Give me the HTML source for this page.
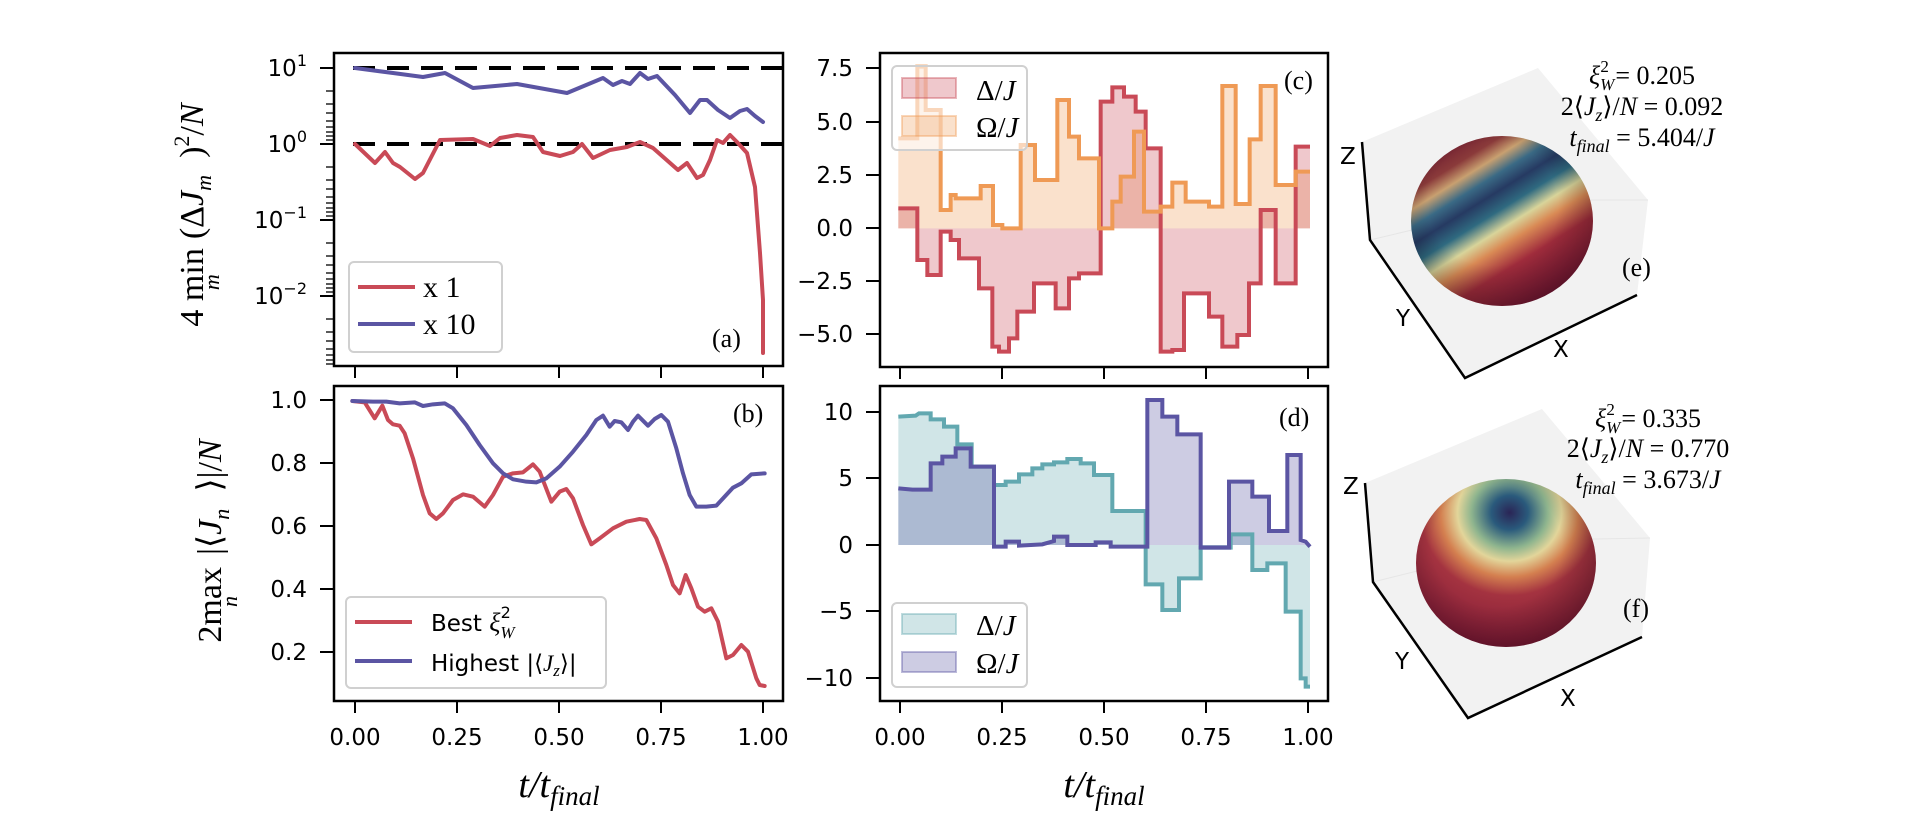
<!DOCTYPE html>
<html><head><meta charset="utf-8"><style>
html,body{margin:0;padding:0;background:#fff;}
svg{display:block;}
.tk{font-family:"DejaVu Sans","Liberation Sans",sans-serif;font-size:23px;fill:#000;}
.sf{font-family:"Liberation Serif","DejaVu Serif",serif;fill:#000;}
</style></head><body>
<svg width="1906" height="824" viewBox="0 0 1906 824" xmlns="http://www.w3.org/2000/svg">
<defs>
<linearGradient id="ge" x1="0.15" y1="0.05" x2="0.75" y2="0.95">
<stop offset="0" stop-color="#6e1a30"/><stop offset="0.14" stop-color="#8a3a3a"/>
<stop offset="0.22" stop-color="#c8a070"/><stop offset="0.3" stop-color="#3a6a85"/>
<stop offset="0.38" stop-color="#263a62"/><stop offset="0.47" stop-color="#2f6a80"/>
<stop offset="0.56" stop-color="#d8d49a"/><stop offset="0.64" stop-color="#d98a55"/>
<stop offset="0.76" stop-color="#a02c3c"/><stop offset="1" stop-color="#781735"/>
</linearGradient>
<radialGradient id="gf" cx="0.52" cy="0.2" r="0.85">
<stop offset="0" stop-color="#2a2556"/><stop offset="0.12" stop-color="#2a5a7c"/>
<stop offset="0.25" stop-color="#8fb58e"/><stop offset="0.34" stop-color="#e2d59a"/>
<stop offset="0.45" stop-color="#d48050"/><stop offset="0.58" stop-color="#a43340"/>
<stop offset="1" stop-color="#7a1535"/>
</radialGradient>
<radialGradient id="sh" cx="0.45" cy="0.4" r="0.6">
<stop offset="0.6" stop-color="#000" stop-opacity="0"/><stop offset="1" stop-color="#000" stop-opacity="0.25"/>
</radialGradient>
</defs>

<!-- ===== Panel a ===== -->
<g fill="none" stroke-linejoin="round" stroke-linecap="round">
<line x1="353" y1="68" x2="783" y2="68" stroke="#000" stroke-width="4" stroke-dasharray="22,12" stroke-linecap="butt"/>
<line x1="353" y1="144" x2="783" y2="144" stroke="#000" stroke-width="4" stroke-dasharray="22,12" stroke-linecap="butt"/>
<polyline stroke="#5b55a3" stroke-width="4" points="355,68 393,73 423,77 445,73 473,88 517,84 567,93 603,78 613,85 622,81 630,84 640,73 648,79 657,76 675,95 690,113 700,100 707,100 718,110 730,118 740,111 747,109 755,116 763,122"/>
<polyline stroke="#c94a57" stroke-width="4" points="355,144 375,163 385,152 393,163 400,167 415,179 423,173 440,140 473,139 490,146 500,138 517,135 533,137 543,152 560,156 573,152 582,144 593,158 610,150 627,147 640,142 653,148 678,170 687,163 697,178 703,175 710,160 717,140 723,143 730,135 737,142 747,153 755,187 760,253 763,300 763,353"/>
</g>
<g stroke="#000" stroke-width="2">
<line x1="320" y1="68" x2="333" y2="68"/><line x1="320" y1="144" x2="333" y2="144"/>
<line x1="320" y1="220" x2="333" y2="220"/><line x1="320" y1="296" x2="333" y2="296"/>
</g>
<g stroke="#000" stroke-width="1.3">
<line x1="326" y1="91" x2="333" y2="91"/><line x1="326" y1="104" x2="333" y2="104"/><line x1="326" y1="113" x2="333" y2="113"/><line x1="326" y1="121" x2="333" y2="121"/><line x1="326" y1="127" x2="333" y2="127"/><line x1="326" y1="132" x2="333" y2="132"/><line x1="326" y1="136" x2="333" y2="136"/><line x1="326" y1="140" x2="333" y2="140"/>
<line x1="326" y1="167" x2="333" y2="167"/><line x1="326" y1="180" x2="333" y2="180"/><line x1="326" y1="189" x2="333" y2="189"/><line x1="326" y1="197" x2="333" y2="197"/><line x1="326" y1="203" x2="333" y2="203"/><line x1="326" y1="208" x2="333" y2="208"/><line x1="326" y1="212" x2="333" y2="212"/><line x1="326" y1="216" x2="333" y2="216"/>
<line x1="326" y1="243" x2="333" y2="243"/><line x1="326" y1="256" x2="333" y2="256"/><line x1="326" y1="265" x2="333" y2="265"/><line x1="326" y1="273" x2="333" y2="273"/><line x1="326" y1="279" x2="333" y2="279"/><line x1="326" y1="284" x2="333" y2="284"/><line x1="326" y1="288" x2="333" y2="288"/><line x1="326" y1="292" x2="333" y2="292"/>
<line x1="326" y1="319" x2="333" y2="319"/><line x1="326" y1="332" x2="333" y2="332"/><line x1="326" y1="341" x2="333" y2="341"/><line x1="326" y1="349" x2="333" y2="349"/><line x1="326" y1="355" x2="333" y2="355"/><line x1="326" y1="360" x2="333" y2="360"/><line x1="326" y1="364" x2="333" y2="364"/>
</g>
<g class="tk" text-anchor="end">
<text x="307" y="76">10<tspan dy="-10" font-size="16">1</tspan></text>
<text x="307" y="152">10<tspan dy="-10" font-size="16">0</tspan></text>
<text x="307" y="228">10<tspan dy="-10" font-size="16">−1</tspan></text>
<text x="307" y="304">10<tspan dy="-10" font-size="16">−2</tspan></text>
</g>
<g stroke="#000" stroke-width="2">
<line x1="355" y1="366" x2="355" y2="378"/><line x1="457" y1="366" x2="457" y2="378"/><line x1="559" y1="366" x2="559" y2="378"/><line x1="661" y1="366" x2="661" y2="378"/><line x1="763" y1="366" x2="763" y2="378"/>
</g>
<rect x="349" y="262" width="153" height="90" rx="5" fill="#fff" fill-opacity="0.8" stroke="#d0d0d0" stroke-width="2"/>
<line x1="358" y1="287" x2="415" y2="287" stroke="#c94a57" stroke-width="4"/>
<line x1="358" y1="324" x2="415" y2="324" stroke="#5b55a3" stroke-width="4"/>
<text class="sf" x="423" y="297" font-size="30">x 1</text>
<text class="sf" x="423" y="334" font-size="30">x 10</text>
<text class="sf" x="712" y="347" font-size="26">(a)</text>
<rect x="334" y="53" width="449" height="313" fill="none" stroke="#000" stroke-width="2.5"/>

<!-- ===== Panel b ===== -->
<g transform="translate(333,385) scale(0.33333)" fill="none" stroke-width="12" stroke-linejoin="round" stroke-linecap="round">
<polyline stroke="#c94a57" points="58,48 95,52 125,100 148,62 165,105 180,118 200,122 215,145 240,220 270,330 290,385 310,402 330,385 360,345 390,328 420,335 455,365 480,330 510,275 540,265 570,262 600,238 620,260 655,350 680,320 700,312 720,340 750,420 775,478 800,460 840,430 880,410 920,402 940,405 970,460 1000,540 1020,600 1040,625 1058,570 1075,610 1095,665 1115,680 1135,670 1155,710 1180,820 1200,810 1225,780 1245,800 1270,880 1280,900 1295,903"/>
<polyline stroke="#5b55a3" points="58,48 120,50 160,50 200,55 245,52 270,63 300,58 335,55 360,70 400,120 440,180 480,235 510,265 540,283 580,290 610,292 640,280 680,245 720,200 760,150 790,105 810,92 830,125 845,108 865,112 885,135 900,110 915,92 945,122 965,102 985,90 1005,110 1030,190 1050,265 1070,330 1090,365 1120,365 1150,362 1175,335 1200,308 1225,295 1255,268 1295,265"/>
</g>
<g stroke="#000" stroke-width="2">
<line x1="320" y1="400" x2="334" y2="400"/><line x1="320" y1="463" x2="334" y2="463"/><line x1="320" y1="526" x2="334" y2="526"/><line x1="320" y1="589" x2="334" y2="589"/><line x1="320" y1="652" x2="334" y2="652"/>
<line x1="355" y1="701" x2="355" y2="713"/><line x1="457" y1="701" x2="457" y2="713"/><line x1="559" y1="701" x2="559" y2="713"/><line x1="661" y1="701" x2="661" y2="713"/><line x1="763" y1="701" x2="763" y2="713"/>
</g>
<g class="tk" text-anchor="end">
<text x="307" y="408">1.0</text><text x="307" y="471">0.8</text><text x="307" y="534">0.6</text><text x="307" y="597">0.4</text><text x="307" y="660">0.2</text>
</g>
<g class="tk" text-anchor="middle">
<text x="355" y="745">0.00</text><text x="457" y="745">0.25</text><text x="559" y="745">0.50</text><text x="661" y="745">0.75</text><text x="763" y="745">1.00</text>
<text x="900" y="745">0.00</text><text x="1002" y="745">0.25</text><text x="1104" y="745">0.50</text><text x="1206" y="745">0.75</text><text x="1308" y="745">1.00</text>
</g>
<rect x="346" y="597" width="260" height="91" rx="5" fill="#fff" fill-opacity="0.8" stroke="#d0d0d0" stroke-width="2"/>
<line x1="355" y1="622" x2="412" y2="622" stroke="#c94a57" stroke-width="4"/>
<line x1="355" y1="661" x2="412" y2="661" stroke="#5b55a3" stroke-width="4"/>
<text class="tk" x="431" y="631" font-size="24">Best <tspan class="sf" font-style="italic" font-size="26">ξ</tspan><tspan class="sf" font-style="italic" font-size="17" dy="7">W</tspan><tspan font-size="16" dx="-14" dy="-20">2</tspan></text>
<text class="tk" x="431" y="671" font-size="24">Highest |⟨<tspan class="sf" font-style="italic">J</tspan><tspan class="sf" font-style="italic" font-size="17" dy="5">z</tspan><tspan dy="-5">⟩|</tspan></text>
<text class="sf" x="733" y="422" font-size="26">(b)</text>
<rect x="334" y="386" width="449" height="315" fill="none" stroke="#000" stroke-width="2.5"/>

<!-- ===== Panel c ===== -->
<g transform="translate(879,50) scale(0.33333)" stroke-width="12" stroke-linejoin="miter">
<polygon fill="#ef9a55" fill-opacity="0.3" stroke="none" points="58,265 115,265 115,50 140,50 140,180 185,180 185,480 215,480 215,435 230,435 230,445 305,445 305,408 342,408 342,525 370,525 370,535 425,535 425,285 468,285 468,390 535,390 535,150 570,150 570,260 600,260 600,325 660,325 660,535 700,535 700,455 725,455 725,380 765,380 765,245 795,245 795,485 845,485 845,470 880,470 880,398 920,398 920,455 990,455 990,470 1030,470 1030,108 1070,108 1070,462 1112,462 1112,268 1145,268 1145,108 1190,108 1190,405 1250,405 1250,365 1293,365 1293,535 58,535"/>
<polygon fill="#c94a57" fill-opacity="0.3" stroke="none" points="58,475 115,475 115,630 145,630 145,675 185,675 185,545 215,545 215,570 240,570 240,625 300,625 300,715 340,715 340,890 360,890 360,905 390,905 390,865 415,865 415,785 465,785 465,700 530,700 530,775 570,775 570,685 600,685 600,670 665,670 665,155 700,155 700,112 735,112 735,140 770,140 770,185 800,185 800,295 845,295 845,905 880,905 880,900 915,900 915,730 990,730 990,800 1030,800 1030,890 1075,890 1075,855 1110,855 1110,700 1145,700 1145,480 1190,480 1190,700 1250,700 1250,290 1293,290 1293,535 58,535"/>
<polyline fill="none" stroke="#c94a57" points="58,475 115,475 115,630 145,630 145,675 185,675 185,545 215,545 215,570 240,570 240,625 300,625 300,715 340,715 340,890 360,890 360,905 390,905 390,865 415,865 415,785 465,785 465,700 530,700 530,775 570,775 570,685 600,685 600,670 665,670 665,155 700,155 700,112 735,112 735,140 770,140 770,185 800,185 800,295 845,295 845,905 880,905 880,900 915,900 915,730 990,730 990,800 1030,800 1030,890 1075,890 1075,855 1110,855 1110,700 1145,700 1145,480 1190,480 1190,700 1250,700 1250,290 1293,290"/>
<polyline fill="none" stroke="#ef9a55" points="58,265 115,265 115,50 140,50 140,180 185,180 185,480 215,480 215,435 230,435 230,445 305,445 305,408 342,408 342,525 370,525 370,535 425,535 425,285 468,285 468,390 535,390 535,150 570,150 570,260 600,260 600,325 660,325 660,535 700,535 700,455 725,455 725,380 765,380 765,245 795,245 795,485 845,485 845,470 880,470 880,398 920,398 920,455 990,455 990,470 1030,470 1030,108 1070,108 1070,462 1112,462 1112,268 1145,268 1145,108 1190,108 1190,405 1250,405 1250,365 1293,365"/>
</g>
<rect x="892" y="66" width="135" height="84" rx="5" fill="#fff" fill-opacity="0.6" stroke="#d0d0d0" stroke-width="2"/>
<rect x="902" y="78" width="54" height="20" fill="#c94a57" fill-opacity="0.3" stroke="#c94a57" stroke-opacity="0.4" stroke-width="2"/>
<rect x="902" y="116" width="54" height="20" fill="#ef9a55" fill-opacity="0.3" stroke="#ef9a55" stroke-opacity="0.4" stroke-width="2"/>
<text class="sf" x="976" y="100" font-size="29">Δ/<tspan font-style="italic">J</tspan></text>
<text class="sf" x="976" y="137" font-size="29">Ω/<tspan font-style="italic">J</tspan></text>
<g stroke="#000" stroke-width="2">
<line x1="866" y1="68" x2="879" y2="68"/><line x1="866" y1="122" x2="879" y2="122"/><line x1="866" y1="175" x2="879" y2="175"/><line x1="866" y1="228" x2="879" y2="228"/><line x1="866" y1="281" x2="879" y2="281"/><line x1="866" y1="334" x2="879" y2="334"/>
<line x1="900" y1="367" x2="900" y2="379"/><line x1="1002" y1="367" x2="1002" y2="379"/><line x1="1104" y1="367" x2="1104" y2="379"/><line x1="1206" y1="367" x2="1206" y2="379"/><line x1="1308" y1="367" x2="1308" y2="379"/>
</g>
<g class="tk" text-anchor="end">
<text x="853" y="76">7.5</text><text x="853" y="130">5.0</text><text x="853" y="183">2.5</text><text x="853" y="236">0.0</text><text x="853" y="289">−2.5</text><text x="853" y="342">−5.0</text>
</g>
<text class="sf" x="1284" y="89" font-size="26">(c)</text>
<rect x="880" y="53" width="448" height="314" fill="none" stroke="#000" stroke-width="2.5"/>

<!-- ===== Panel d ===== -->
<g transform="translate(879,385) scale(0.33333)" stroke-width="12">
<polygon fill="#62a8b0" fill-opacity="0.3" stroke="none" points="58,95 110,92 120,85 155,85 155,103 195,103 195,125 235,125 235,178 278,178 278,245 345,245 345,300 380,300 380,290 420,290 420,268 460,268 460,250 490,250 490,238 525,238 525,232 565,232 565,222 605,222 605,235 645,235 645,270 700,270 700,378 800,378 800,598 850,598 850,675 900,675 900,580 965,580 965,488 1055,488 1055,448 1120,448 1120,555 1165,555 1165,535 1220,535 1220,680 1265,680 1265,880 1280,880 1280,905 1293,905 1293,480 58,480"/>
<polygon fill="#5b55a3" fill-opacity="0.3" stroke="none" points="58,310 100,314 155,314 155,235 190,235 190,215 230,215 230,190 275,190 275,245 345,245 345,485 380,485 380,470 420,470 420,482 490,478 525,468 525,455 565,455 565,480 650,480 650,472 695,472 695,485 805,485 805,45 850,45 850,95 895,95 895,148 965,148 965,488 1050,488 1050,290 1120,290 1120,335 1170,335 1170,438 1225,438 1225,210 1265,210 1265,465 1280,470 1293,485 1293,480 58,480"/>
<polyline fill="none" stroke="#62a8b0" points="58,95 110,92 120,85 155,85 155,103 195,103 195,125 235,125 235,178 278,178 278,245 345,245 345,300 380,300 380,290 420,290 420,268 460,268 460,250 490,250 490,238 525,238 525,232 565,232 565,222 605,222 605,235 645,235 645,270 700,270 700,378 800,378 800,598 850,598 850,675 900,675 900,580 965,580 965,488 1055,488 1055,448 1120,448 1120,555 1165,555 1165,535 1220,535 1220,680 1265,680 1265,880 1280,880 1280,905 1293,905"/>
<polyline fill="none" stroke="#5b55a3" points="58,310 100,314 155,314 155,235 190,235 190,215 230,215 230,190 275,190 275,245 345,245 345,485 380,485 380,470 420,470 420,482 490,478 525,468 525,455 565,455 565,480 650,480 650,472 695,472 695,485 805,485 805,45 850,45 850,95 895,95 895,148 965,148 965,488 1050,488 1050,290 1120,290 1120,335 1170,335 1170,438 1225,438 1225,210 1265,210 1265,465 1280,470 1293,485"/>
</g>
<rect x="892" y="603" width="135" height="84" rx="5" fill="#fff" fill-opacity="0.8" stroke="#d0d0d0" stroke-width="2"/>
<rect x="902" y="614" width="54" height="20" fill="#62a8b0" fill-opacity="0.3" stroke="#62a8b0" stroke-opacity="0.4" stroke-width="2"/>
<rect x="902" y="652" width="54" height="20" fill="#5b55a3" fill-opacity="0.3" stroke="#5b55a3" stroke-opacity="0.4" stroke-width="2"/>
<text class="sf" x="976" y="635" font-size="29">Δ/<tspan font-style="italic">J</tspan></text>
<text class="sf" x="976" y="673" font-size="29">Ω/<tspan font-style="italic">J</tspan></text>
<g stroke="#000" stroke-width="2">
<line x1="866" y1="412" x2="879" y2="412"/><line x1="866" y1="478" x2="879" y2="478"/><line x1="866" y1="545" x2="879" y2="545"/><line x1="866" y1="611" x2="879" y2="611"/><line x1="866" y1="678" x2="879" y2="678"/>
<line x1="900" y1="701" x2="900" y2="713"/><line x1="1002" y1="701" x2="1002" y2="713"/><line x1="1104" y1="701" x2="1104" y2="713"/><line x1="1206" y1="701" x2="1206" y2="713"/><line x1="1308" y1="701" x2="1308" y2="713"/>
</g>
<g class="tk" text-anchor="end">
<text x="853" y="420">10</text><text x="853" y="486">5</text><text x="853" y="553">0</text><text x="853" y="619">−5</text><text x="853" y="686">−10</text>
</g>
<text class="sf" x="1279" y="426" font-size="26">(d)</text>
<rect x="880" y="386" width="448" height="315" fill="none" stroke="#000" stroke-width="2.5"/>

<!-- axis labels -->
<text class="sf" x="559" y="797" font-size="38" font-style="italic" text-anchor="middle">t/t<tspan font-size="27" dy="8">final</tspan></text>
<text class="sf" x="1104" y="797" font-size="38" font-style="italic" text-anchor="middle">t/t<tspan font-size="27" dy="8">final</tspan></text>
<text class="sf" transform="translate(203,215) rotate(-90)" font-size="34" text-anchor="middle">4 min<tspan font-size="22" font-style="italic" dx="-42" dy="16">m⃗</tspan><tspan dx="18" dy="-16">(Δ</tspan><tspan font-style="italic">J</tspan><tspan font-size="22" font-style="italic" dy="8">m⃗</tspan><tspan dy="-8">)</tspan><tspan font-size="22" dy="-14">2</tspan><tspan dy="14">/</tspan><tspan font-style="italic">N</tspan></text>
<text class="sf" transform="translate(221,541) rotate(-90)" font-size="34" text-anchor="middle">2max<tspan font-size="22" font-style="italic" dx="-40" dy="16">n⃗</tspan><tspan dx="24" dy="-16">|⟨</tspan><tspan font-style="italic">J</tspan><tspan font-size="22" font-style="italic" dy="8">n⃗</tspan><tspan dy="-8">⟩|/</tspan><tspan font-style="italic">N</tspan></text>

<!-- ===== Sphere e ===== -->
<polygon points="1362,142 1538,68 1648,200 1637,295 1465,378 1370,240" fill="#f2f2f2"/>
<polyline points="1370,240 1538,200 1648,200" fill="none" stroke="#e6e6e6" stroke-width="1"/>
<polyline points="1362,142 1370,240 1465,378 1637,295" fill="none" stroke="#000" stroke-width="2.5"/>
<ellipse cx="1502" cy="221" rx="91" ry="85" fill="url(#ge)"/>
<ellipse cx="1502" cy="221" rx="91" ry="85" fill="url(#sh)"/>
<text class="tk" x="1340" y="164" font-size="23">Z</text>
<text class="tk" x="1396" y="326" font-size="23">Y</text>
<text class="tk" x="1553" y="357" font-size="23">X</text>
<text class="sf" x="1622" y="276" font-size="26">(e)</text>
<g class="sf" font-size="26" text-anchor="middle">
<text x="1642" y="84"><tspan font-style="italic">ξ</tspan><tspan font-size="17" font-style="italic" dy="6">W</tspan><tspan font-size="17" dx="-14" dy="-18">2</tspan><tspan dy="12"> = 0.205</tspan></text>
<text x="1642" y="115">2⟨<tspan font-style="italic">J</tspan><tspan font-size="18" font-style="italic" dy="6">z</tspan><tspan dy="-6">⟩/</tspan><tspan font-style="italic">N</tspan> = 0.092</text>
<text x="1642" y="146"><tspan font-style="italic">t</tspan><tspan font-size="18" font-style="italic" dy="6">final</tspan><tspan dy="-6"> = 5.404/</tspan><tspan font-style="italic">J</tspan></text>
</g>

<!-- ===== Sphere f ===== -->
<polygon points="1365,483 1542,409 1650,538 1642,637 1468,718 1373,582" fill="#f2f2f2"/>
<polyline points="1373,582 1542,540 1650,538" fill="none" stroke="#e6e6e6" stroke-width="1"/>
<polyline points="1365,483 1373,582 1468,718 1642,637" fill="none" stroke="#000" stroke-width="2.5"/>
<ellipse cx="1506" cy="563" rx="90" ry="84" fill="url(#gf)"/>
<ellipse cx="1506" cy="563" rx="90" ry="84" fill="url(#sh)"/>
<text class="tk" x="1343" y="494" font-size="23">Z</text>
<text class="tk" x="1395" y="669" font-size="23">Y</text>
<text class="tk" x="1560" y="706" font-size="23">X</text>
<text class="sf" x="1623" y="617" font-size="26">(f)</text>
<g class="sf" font-size="26" text-anchor="middle">
<text x="1648" y="427"><tspan font-style="italic">ξ</tspan><tspan font-size="17" font-style="italic" dy="6">W</tspan><tspan font-size="17" dx="-14" dy="-18">2</tspan><tspan dy="12"> = 0.335</tspan></text>
<text x="1648" y="457">2⟨<tspan font-style="italic">J</tspan><tspan font-size="18" font-style="italic" dy="6">z</tspan><tspan dy="-6">⟩/</tspan><tspan font-style="italic">N</tspan> = 0.770</text>
<text x="1648" y="488"><tspan font-style="italic">t</tspan><tspan font-size="18" font-style="italic" dy="6">final</tspan><tspan dy="-6"> = 3.673/</tspan><tspan font-style="italic">J</tspan></text>
</g>
</svg>
</body></html>
